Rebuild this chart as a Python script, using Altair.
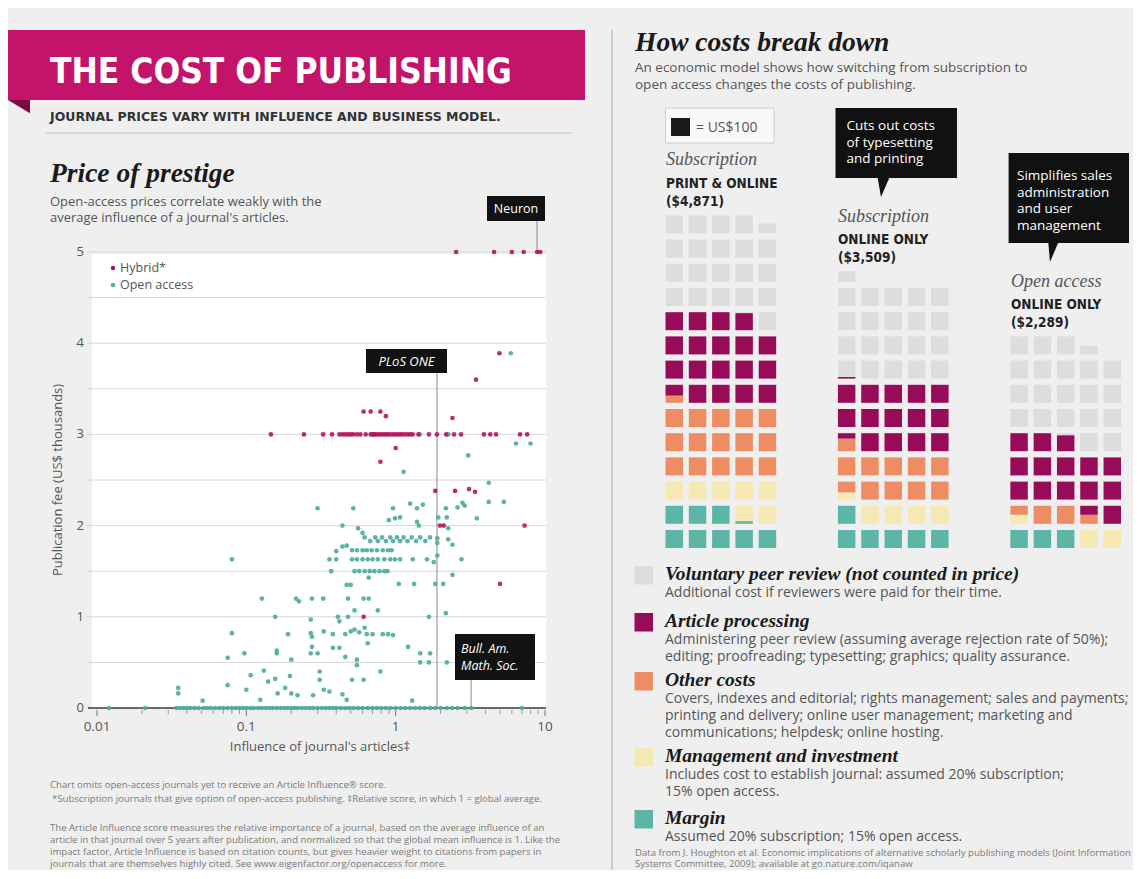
import math
import altair as alt
import pandas as pd

# ------------------------------------------------------------------
# Price of prestige: publication fee (US$ thousands) vs Article Influence
# ------------------------------------------------------------------
hybrid_influence = [2.54, 4.56, 6.0, 7.2, 8.85, 9.3,
                    4.95, 3.45,
                    0.61, 0.68, 0.79, 0.86, 2.4,
                    1.0, 0.79,
                    1.84, 2.5, 3.1, 3.4,
                    1.98, 2.1, 7.3,
                    5.0, 0.61]
hybrid_fee = [5.0, 5.0, 5.0, 5.0, 5.0, 5.0,
              3.89, 3.6,
              3.25, 3.25, 3.25, 3.2, 3.18,
              2.85, 2.7,
              2.38, 2.38, 2.4, 2.37,
              2.0, 2.0, 2.0,
              1.36, 1.0]
# hybrid journals charging US$3,000
hybrid_3000_influence = [0.146, 0.243, 0.327, 0.375, 0.42, 0.44, 0.46, 0.48, 0.50, 0.52, 0.55, 0.58, 0.63,
                         0.68, 0.70, 0.72, 0.75, 0.78, 0.81, 0.84, 0.87, 0.90, 0.94,
                         0.98, 1.02, 1.06, 1.1, 1.15, 1.2, 1.25, 1.3, 1.42, 1.67,
                         1.89, 2.18, 2.46, 2.74, 3.9, 4.3, 4.7, 6.8, 7.6]

oa_influence = [5.9, 1.13, 3.06, 6.4, 8.0, 0.72, 1.45, 2.25,
                4.2, 4.2, 5.3, 3.5,
                0.30, 0.52, 0.96, 1.25, 1.39, 1.52, 2.17, 2.6, 2.8, 2.9,
                0.9, 0.99, 1.07, 1.39, 1.43, 1.93, 2.2, 2.25, 0.44, 0.56, 0.6,
                0.62, 0.675, 0.73, 0.76, 0.81, 0.86, 0.92, 0.96, 1.02, 1.07, 1.13,
                1.2, 1.28, 1.37, 1.46, 1.58, 1.7, 1.9, 1.9, 2.25, 2.4,
                2.76, 2.4, 0.4, 0.44, 0.47, 0.36, 0.4,
                0.51, 0.55, 0.6, 0.64, 0.69, 0.75, 0.82, 0.89, 0.94,
                0.51, 0.55, 0.6, 0.65, 0.70, 0.76, 0.84, 0.92, 0.99, 1.07, 1.3, 1.62, 1.9, 1.8,
                0.37, 0.53, 0.57, 0.62, 0.67, 0.72, 0.78, 0.84, 0.88,
                0.66, 1.05, 1.33, 1.84, 2.08, 0.47, 0.5, 0.08,
                0.127, 0.215, 0.225, 0.275, 0.327, 0.48, 0.61, 0.66,
                0.156, 0.27, 0.41, 0.42, 0.48, 0.53, 0.76, 1.67, 2.17,
                0.08, 0.19, 0.27, 0.275, 0.33, 0.38, 0.46, 0.50,
                0.53, 0.57, 0.62, 0.64, 0.70, 0.82, 0.89, 0.96,
                0.075, 0.097, 0.16, 0.16, 0.2, 0.27, 0.3, 0.275, 0.38, 0.42,
                0.46, 0.55, 0.55, 0.65, 1.21, 1.46, 1.70, 1.46, 1.67, 2.2,
                0.79, 0.131, 0.107, 0.14, 0.156, 0.196, 0.162, 0.182, 0.2, 0.22,
                0.075, 0.10, 0.124, 0.035, 0.035, 0.051, 0.31, 0.31, 0.28, 0.33,
                0.36, 0.44, 0.51, 0.61, 0.47, 1.29]
oa_fee = [3.89, 2.59, 2.77, 2.9, 2.9, 3.0, 3.0, 3.0,
          2.47, 2.26, 2.26, 2.08,
          2.19, 2.19, 2.19, 2.24, 2.19, 2.23, 2.19, 2.2, 2.25, 2.22,
          2.06, 2.08, 2.09, 2.04, 2.0, 2.09, 2.09, 1.97, 2.0, 1.97, 1.92,
          1.87, 1.83, 1.87, 1.83, 1.87, 1.83, 1.87, 1.83, 1.87, 1.83, 1.87,
          1.83, 1.87, 1.83, 1.87, 1.83, 1.87, 1.86, 1.81, 1.85, 1.79,
          1.63, 1.46, 1.72, 1.77, 1.78, 1.63, 1.63,
          1.73, 1.73, 1.73, 1.73, 1.73, 1.73, 1.73, 1.73, 1.73,
          1.63, 1.63, 1.63, 1.63, 1.63, 1.63, 1.63, 1.63, 1.63, 1.63, 1.63, 1.63, 1.67, 1.6,
          1.5, 1.5, 1.5, 1.5, 1.5, 1.5, 1.5, 1.5, 1.5,
          1.43, 1.36, 1.36, 1.36, 1.36, 1.35, 1.35, 1.63,
          1.2, 1.2, 1.17, 1.2, 1.2, 1.2, 1.2, 1.2,
          1.0, 0.97, 1.0, 0.95, 1.0, 1.07, 1.07, 1.0, 1.04,
          0.82, 0.81, 0.82, 0.78, 0.84, 0.81, 0.81, 0.84,
          0.86, 0.83, 0.88, 0.81, 0.81, 0.81, 0.81, 0.80,
          0.55, 0.6, 0.63, 0.6, 0.53, 0.6, 0.6, 0.67, 0.66, 0.66,
          0.56, 0.53, 0.47, 0.71, 0.67, 0.6, 0.6, 0.5, 0.5, 0.5,
          0.4, 0.41, 0.36, 0.29, 0.32, 0.35, 0.16, 0.22, 0.16, 0.14,
          0.25, 0.2, 0.09, 0.22, 0.16, 0.08, 0.4, 0.31, 0.14, 0.2,
          0.18, 0.15, 0.31, 0.31, 0.09, 0.08]
# open-access journals that charge no fee
oa_free_influence = [0.012, 0.021, 0.034, 0.036, 0.038, 0.040, 0.042, 0.045, 0.048, 0.052,
                     0.055, 0.058, 0.062, 0.066, 0.070, 0.075, 0.080, 0.085, 0.090, 0.095,
                     0.100, 0.106, 0.112, 0.120, 0.127, 0.135, 0.143, 0.150, 0.160, 0.170,
                     0.180, 0.190, 0.200, 0.210, 0.220, 0.235, 0.250, 0.265, 0.280, 0.300,
                     0.320, 0.340, 0.360, 0.380, 0.400, 0.430, 0.460, 0.490, 0.520, 0.560,
                     0.600, 0.650, 0.700, 0.750, 0.800, 0.860, 0.920, 1.000, 1.080, 1.160,
                     1.250, 1.350, 1.450, 1.560, 1.700, 1.850, 2.000, 2.200, 2.400, 2.600,
                     2.900, 3.200, 7.000]

annot_names = ["Neuron", "PLoS ONE", "Bull. Am. Math. Soc."]
annot_influence = [8.85, 1.89, 3.2]
annot_fee = [5.0, 0.0, 0.0]

y_ticks = [0, 1, 2, 3, 4, 5]
y_grid = [0.5, 1, 1.5, 2, 2.5, 3, 3.5, 4, 4.5, 5]
x_ticks = [0.01, 0.1, 1, 10]
x_tick_labels = ["0.01", "0.1", "1", "10"]
x_minor = [0.02, 0.03, 0.04, 0.05, 0.06, 0.07, 0.08, 0.09,
           0.2, 0.3, 0.4, 0.5, 0.6, 0.7, 0.8, 0.9,
           2, 3, 4, 5, 6, 7, 8, 9]

# ------------------------------------------------------------------
# How costs break down: cost per article, US$ (one square = US$100)
# ------------------------------------------------------------------
models = ["Subscription print & online", "Subscription online only", "Open access online only"]
categories = ["Margin", "Management and investment", "Other costs",
              "Article processing", "Voluntary peer review"]
margin = [815, 600, 300]
management = [685, 440, 250]
other_costs = [1540, 1030, 300]
article_processing = [1855, 1439, 1439]
peer_review = [2060, 2050, 2060]
square_value = 100
cat_colors = ["#5db5a8", "#f6e8b2", "#ee8d64", "#980b59", "#dddddd"]

HYB = "#b0105d"
OA = "#4fae9e"
SANS = "Open Sans, Liberation Sans, Arial, sans-serif"
BOLDSANS = "DejaVu Sans, Liberation Sans, sans-serif"
SERIF = "Liberation Serif, Times New Roman, serif"
COND = "DejaVu Sans Condensed, Liberation Sans Narrow, sans-serif"
M = 8  # page margin: picture coordinates -> chart coordinates

assert len(hybrid_influence) == len(hybrid_fee)
assert len(oa_influence) == len(oa_fee)

# ------------------------------------------------------------------
# helpers for decoration (titles, boxes, notes)
# ------------------------------------------------------------------
def T(s, x, y, size=13, color="#555555", font=SANS, weight="normal", style="normal",
      align="left", baseline="alphabetic", lh=None, angle=None):
    kw = dict(align=align, baseline=baseline, font=font, fontSize=size,
              fontWeight=weight, fontStyle=style, color=color)
    if lh is not None:
        kw["lineHeight"] = lh
    if angle is not None:
        kw["angle"] = angle
    return alt.Chart().mark_text(**kw).encode(
        x=alt.value(x - M), y=alt.value(y - M), text=alt.value(s))


def R(x0, y0, x1, y1, fill, stroke=None, sw=1):
    kw = dict(fill=fill)
    if stroke:
        kw.update(stroke=stroke, strokeWidth=sw)
    return alt.Chart().mark_rect(**kw).encode(
        x=alt.value(x0 - M), x2=alt.value(x1 - M), y=alt.value(y0 - M), y2=alt.value(y1 - M))


def L(x0, y0, x1, y1, color, w=1):
    return alt.Chart().mark_rule(color=color, strokeWidth=w).encode(
        x=alt.value(x0 - M), x2=alt.value(x1 - M), y=alt.value(y0 - M), y2=alt.value(y1 - M))


def SHAPE(path, cx, cy, size, color):
    return alt.Chart().mark_point(shape=path, size=size, filled=True, fill=color,
                                  opacity=1, strokeWidth=0).encode(
        x=alt.value(cx - M), y=alt.value(cy - M))


def DOT(cx, cy, color, size=22):
    return alt.Chart().mark_circle(size=size, color=color, opacity=1).encode(
        x=alt.value(cx - M), y=alt.value(cy - M))


# ------------------------------------------------------------------
# scatter group
# ------------------------------------------------------------------
XS = alt.Scale(type="log", domain=[0.01, 10], range=[97 - M, 545 - M], nice=False)
YS = alt.Scale(domain=[0, 5], range=[708 - M, 252 - M], nice=False)

grid = alt.Chart(pd.DataFrame({"g": y_grid})).mark_rule(color="#d6d6d6", strokeWidth=1).encode(
    y=alt.Y("g:Q", scale=YS, axis=None), x=alt.value(87 - M), x2=alt.value(546 - M))
ylab = alt.Chart(pd.DataFrame({"v": y_ticks, "t": [str(v) for v in y_ticks]})).mark_text(
    align="right", baseline="middle", font=SANS, fontSize=13, color="#555555").encode(
    y=alt.Y("v:Q", scale=YS, axis=None), x=alt.value(84 - M), text="t:N")
axis_line = alt.Chart(pd.DataFrame({"v": [0]})).mark_rule(color="#3a3a3a", strokeWidth=1.6).encode(
    y=alt.Y("v:Q", scale=YS, axis=None), x=alt.value(88 - M), x2=alt.value(546 - M))
minor = alt.Chart(pd.DataFrame({"m": x_minor})).mark_rule(color="#9a9a9a", strokeWidth=1).encode(
    x=alt.X("m:Q", scale=XS, axis=None), y=alt.value(710 - M), y2=alt.value(714 - M))
major = alt.Chart(pd.DataFrame({"m": x_ticks})).mark_rule(color="#777777", strokeWidth=1).encode(
    x=alt.X("m:Q", scale=XS, axis=None), y=alt.value(710 - M), y2=alt.value(716 - M))
xlab = alt.Chart(pd.DataFrame({"m": x_ticks, "t": x_tick_labels})).mark_text(
    align="center", baseline="alphabetic", font=SANS, fontSize=13.5, color="#555555").encode(
    x=alt.X("m:Q", scale=XS, axis=None), y=alt.value(731 - M), text="t:N")

ann_box_bottom = [221, 373, 680]
ann_lines = [
    alt.Chart(pd.DataFrame({"name": [annot_names[i]], "influence": [annot_influence[i]],
                            "fee": [annot_fee[i]]})).mark_rule(color="#8a8a8a", strokeWidth=1).encode(
        x=alt.X("influence:Q", scale=XS, axis=None),
        y=alt.Y("fee:Q", scale=YS, axis=None),
        y2=alt.value(ann_box_bottom[i] - M))
    for i in range(3)
]

oa_df = pd.DataFrame({"influence": oa_influence, "fee": oa_fee})
free_df = pd.DataFrame({"influence": oa_free_influence, "fee": 0.0})
hyb_df = pd.concat([pd.DataFrame({"influence": hybrid_influence, "fee": hybrid_fee}),
                    pd.DataFrame({"influence": hybrid_3000_influence, "fee": 3.0})])

def pts(df, color, opacity=0.92):
    return alt.Chart(df).mark_circle(size=22, color=color, opacity=opacity).encode(
        x=alt.X("influence:Q", scale=XS, axis=None),
        y=alt.Y("fee:Q", scale=YS, axis=None))

scatter = alt.layer(grid, axis_line, minor, major, xlab, ylab, *ann_lines,
                    pts(free_df, OA), pts(oa_df, OA), pts(hyb_df, HYB, 0.88))

# ------------------------------------------------------------------
# waffle group
# ------------------------------------------------------------------
PANEL_OFFSET = [0, 7.4, 14.8]   # in square units
CW, CH = 0.75, 0.744           # square size relative to pitch
series = [margin, management, other_costs, article_processing, peer_review]
cells = []
for p in range(3):
    cum = 0.0
    bounds = []
    for c, s in zip(categories, series):
        v = s[p] / square_value
        bounds.append((c, cum, cum + v))
        cum += v
    for k in range(math.ceil(cum - 1e-9)):
        col, row = k % 5, k // 5
        for c, a, b in bounds:
            lo, hi = max(a, k), min(b, k + 1)
            if hi - lo > 1e-6:
                cells.append(dict(model=models[p], category=c,
                                  x=PANEL_OFFSET[p] + col, x2=PANEL_OFFSET[p] + col + CW,
                                  y=row + (lo - k) * CH, y2=row + (hi - k) * CH))
waffle_df = pd.DataFrame(cells)
WX = alt.Scale(domain=[0, 20], range=[665.5 - M, 665.5 + 20 * 23.3 - M], nice=False, zero=False)
WY = alt.Scale(domain=[0, 20], range=[548 - M, 548 - 20 * 24.2 - M], nice=False, zero=False)
waffle = alt.Chart(waffle_df).mark_rect().encode(
    x=alt.X("x:Q", scale=WX, axis=None), x2="x2:Q",
    y=alt.Y("y:Q", scale=WY, axis=None), y2="y2:Q",
    color=alt.Color("category:N", scale=alt.Scale(domain=categories, range=cat_colors), legend=None))

# ------------------------------------------------------------------
# decoration
# ------------------------------------------------------------------
FOOT = "#7a7a7a"
left = [
    R(8, 30, 585, 100, "#c4136b"),
    SHAPE("M-1,-0.6 L1,-0.6 L1,0.6 Z", 19, 106.6, 484, "#7c0b44"),
    T("THE COST OF PUBLISHING", 50, 83, size=35, color="white", font=COND, weight="bold"),
    T("JOURNAL PRICES VARY WITH INFLUENCE AND BUSINESS MODEL.", 50, 121, size=12.5,
      color="#333333", font=BOLDSANS, weight="bold"),
    L(45, 133, 572, 133, "#c4c4c4", 1),
    L(612, 30, 612, 872, "#cccccc", 2),
    T("Price of prestige", 50, 182, size=27.5, color="#1a1a1a", font=SERIF, weight="bold", style="italic"),
    T("Open-access prices correlate weakly with the", 50, 206, size=13),
    T("average influence of a journal's articles.", 50, 222, size=13),
    R(92, 254, 546, 708, "white"),
]
left_after = [
    DOT(113, 268, HYB, 20), DOT(113, 285, OA, 20),
    T("Hybrid*", 120, 272, size=12.5), T("Open access", 120, 289, size=12.5),
    T("Publication fee (US$ thousands)", 58, 480, size=13, align="center", baseline="middle", angle=270),
    T("Influence of journal's articles‡", 320, 751, size=13, align="center"),
    R(487, 196, 545, 221, "#121212"),
    T("Neuron", 516, 213, size=12.5, color="white", align="center"),
    R(366, 349, 447, 373, "#121212"),
    T("PLoS ONE", 406.5, 366, size=13, color="white", style="italic", align="center"),
    R(455, 634, 535, 680, "#121212"),
    T(["Bull. Am.", "Math. Soc."], 461, 653, size=12.5, color="white", style="italic", lh=17),
    T("Chart omits open-access journals yet to receive an Article Influence® score.", 50, 788,
      size=9.6, color=FOOT),
    T("*Subscription journals that give option of open-access publishing. ‡Relative score, in which 1 = global average.",
      52, 802, size=9.6, color=FOOT),
    T(["The Article Influence score measures the relative importance of a journal, based on the average influence of an",
       "article in that journal over 5 years after publication, and normalized so that the global mean influence is 1. Like the",
       "impact factor, Article Influence is based on citation counts, but gives heavier weight to citations from papers in",
       "journals that are themselves highly cited. See www.eigenfactor.org/openaccess for more."],
      50, 831, size=9.6, color=FOOT, lh=12),
]

right = [
    T("How costs break down", 635, 51, size=27.5, color="#1a1a1a", font=SERIF, weight="bold", style="italic"),
    T("An economic model shows how switching from subscription to", 635, 72, size=13.5),
    T("open access changes the costs of publishing.", 635, 89, size=13.5),
    R(665.5, 108, 774, 143, "#f9f9f9", stroke="#cccccc"),
    R(671, 118, 690, 136, "#1a1a1a"),
    T("= US$100", 696, 132, size=14),
    T("Subscription", 666, 165, size=18, font=SERIF, style="italic", color="#555555"),
    T("PRINT & ONLINE", 666, 188, size=13.5, font=COND, weight="bold", color="#222222"),
    T("($4,871)", 666, 206, size=13.5, font=COND, weight="bold", color="#222222"),
    T("Subscription", 838, 222, size=18, font=SERIF, style="italic", color="#555555"),
    T("ONLINE ONLY", 838, 244, size=13.5, font=COND, weight="bold", color="#222222"),
    T("($3,509)", 838, 262, size=13.5, font=COND, weight="bold", color="#222222"),
    T("Open access", 1011, 287, size=18, font=SERIF, style="italic", color="#555555"),
    T("ONLINE ONLY", 1011, 309, size=13.5, font=COND, weight="bold", color="#222222"),
    T("($2,289)", 1011, 327, size=13.5, font=COND, weight="bold", color="#222222"),
    R(835.5, 108, 957, 178, "#111111"),
    SHAPE("M-0.63,-1.1 L0.64,-1.1 L-0.28,1 Z", 883.6, 187.5, 361, "#111111"),
    T(["Cuts out costs", "of typesetting", "and printing"], 846.5, 130, size=13.5, color="white", lh=16.5),
    R(1008.6, 153, 1129, 243, "#111111"),
    SHAPE("M-0.54,-1.1 L0.54,-1.1 L-0.36,1 Z", 1053.4, 252.5, 361, "#111111"),
    T(["Simplifies sales", "administration", "and user", "management"], 1017, 180, size=13.5,
      color="white", lh=16.7),
]

legend_rows = [
    ("Voluntary peer review (not counted in price)", cat_colors[4], 566,
     ["Additional cost if reviewers were paid for their time."]),
    ("Article processing", cat_colors[3], 613,
     ["Administering peer review (assuming average rejection rate of 50%);",
      "editing; proofreading; typesetting; graphics; quality assurance."]),
    ("Other costs", cat_colors[2], 672,
     ["Covers, indexes and editorial; rights management; sales and payments;",
      "printing and delivery; online user management; marketing and",
      "communications; helpdesk; online hosting."]),
    ("Management and investment", cat_colors[1], 748,
     ["Includes cost to establish journal: assumed 20% subscription;",
      "15% open access."]),
    ("Margin", cat_colors[0], 810,
     ["Assumed 20% subscription; 15% open access."]),
]
for title, col, top, desc in legend_rows:
    right.append(R(634.5, top, 653, top + 18.5, col))
    right.append(T(title, 665, top + 14, size=19.5, color="#1a1a1a", font=SERIF,
                   weight="bold", style="italic"))
    right.append(T(desc, 665, top + 31, size=14, lh=17))
right.append(T(["Data from J. Houghton et al. Economic implications of alternative scholarly publishing models (Joint Information",
                "Systems Committee, 2009); available at go.nature.com/iqanaw"],
               635, 856, size=9.6, color=FOOT, lh=11))

chart = alt.layer(*left, scatter, *left_after, waffle, *right,
                  data=alt.Data(values=[{"k": 1}])).resolve_scale(
    x="independent", y="independent"
).properties(
    width=1125, height=862,
    autosize=alt.AutoSizeParams(type="none"),
    padding=0,
    background="#efefef",
).configure_view(stroke=None)

chart.save("out.html", embed_options={"renderer": "svg", "actions": False})
